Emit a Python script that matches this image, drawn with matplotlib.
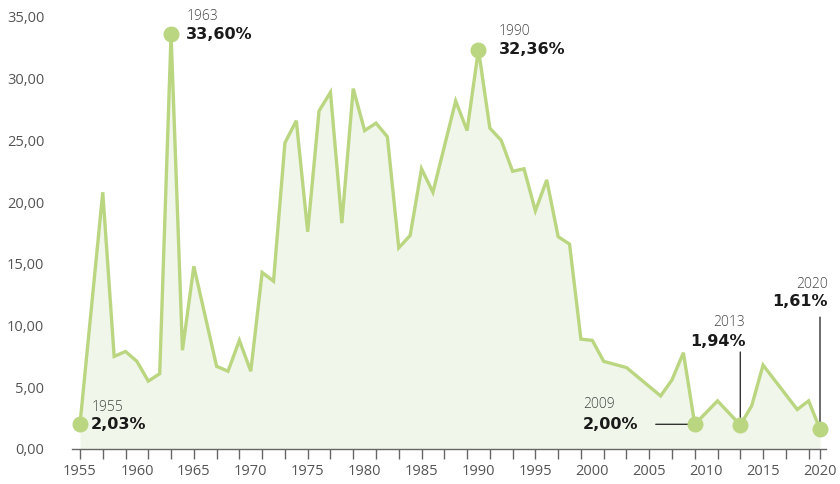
import matplotlib
matplotlib.use("Agg")
import matplotlib.pyplot as plt

plt.rcParams['font.family'] = ['Open Sans', 'DejaVu Sans']

years = [1955, 1957, 1958, 1959, 1960, 1961, 1962, 1963, 1964, 1965,
         1967, 1968, 1969, 1970, 1971, 1972, 1973, 1974, 1975, 1976,
         1977, 1978, 1979, 1980, 1981, 1982, 1983, 1984, 1985, 1986,
         1988, 1989, 1990, 1991, 1992, 1993, 1994, 1995, 1996, 1997,
         1998, 1999, 2000, 2001, 2003, 2006, 2007, 2008, 2009, 2011,
         2013, 2014, 2015, 2018, 2019, 2020]
values = [2.03, 20.8, 7.5, 7.9, 7.1, 5.5, 6.1, 33.60, 8.0, 14.8,
          6.7, 6.3, 8.8, 6.3, 14.3, 13.6, 24.8, 26.6, 17.6, 27.4,
          28.9, 18.3, 29.2, 25.8, 26.4, 25.3, 16.3, 17.3, 22.7, 20.8,
          28.2, 25.8, 32.36, 26.0, 25.0, 22.5, 22.7, 19.3, 21.8, 17.2,
          16.6, 8.9, 8.8, 7.1, 6.6, 4.3, 5.6, 7.8, 2.00, 3.9,
          1.94, 3.5, 6.8, 3.2, 3.9, 1.61]

hl_years = [1955, 1963, 1990, 2009, 2013, 2020]
hl_values = [2.03, 33.60, 32.36, 2.00, 1.94, 1.61]
hl_labels = ["2,03%", "33,60%", "32,36%", "2,00%", "1,94%", "1,61%"]

ytick_values = [0, 5, 10, 15, 20, 25, 30, 35]
xlabel_years = [1955, 1960, 1965, 1970, 1975, 1980, 1985, 1990, 1995,
                2000, 2005, 2010, 2015, 2020]
xtick_years = list(range(1955, 2020, 2)) + [2020]

LINE = "#bad680"
FILL = "#f0f6e9"
GRAY = "#555555"
DARK = "#1a1a1a"

W, H = 840, 484
fig = plt.figure(figsize=(W / 100, H / 100), dpi=100)
ax = fig.add_axes([72 / W, (H - 449) / H, (826 - 72) / W, (449 - 17) / H])
ax.set_xlim(1955 - 8 / 11.385, 2020 + 6 / 11.385)
ax.set_ylim(0, 35)

ax.fill_between(years, values, 0, color=FILL, lw=0, zorder=1)
ax.plot(years, values, color=LINE, lw=2.4, zorder=3, solid_joinstyle='miter')
ax.plot(hl_years, hl_values, 'o', color=LINE, ms=10.5, zorder=4, clip_on=False)

for s in ['top', 'right', 'left']:
    ax.spines[s].set_visible(False)
ax.spines['bottom'].set_color("#666666")
ax.spines['bottom'].set_linewidth(1.0)

ax.set_yticks(ytick_values)
ax.set_yticklabels([f"{v:.2f}".replace('.', ',') for v in ytick_values],
                   color=GRAY, fontsize=10.5)
ax.tick_params(axis='y', length=0, pad=20)

ax.xaxis.remove_overlapping_locs = False
ax.set_xticks(xtick_years)
ax.set_xticklabels([''] * len(xtick_years))
ax.tick_params(axis='x', which='major', length=7, width=1.0, color="#666666",
               direction='out')
ax.set_xticks(xlabel_years, minor=True)
ax.set_xticklabels([str(y) for y in xlabel_years], minor=True,
                   color=GRAY, fontsize=10.5)
ax.tick_params(axis='x', which='minor', length=0, pad=11)

# annotation offsets (pixels): year label, value label, alignment, connector
specs = {
    1955: dict(year=(12, 16), val=(11, -1), ha='left', conn=None),
    1963: dict(year=(16, 18), val=(15, 0), ha='left', conn=None),
    1990: dict(year=(20, 18), val=(20, 0), ha='left', conn=None),
    2009: dict(year=(-112, 20), val=(-112, 0), ha='left', conn=((-39, 0), (-6, 0))),
    2013: dict(year=(5, 103), val=(5, 84), ha='right', conn=((0, 73), (0, 0))),
    2020: dict(year=(8, 145), val=(8, 128), ha='right', conn=((0, 112), (0, 0))),
}

for yr, v, lab in zip(hl_years, hl_values, hl_labels):
    sp = specs[yr]
    ax.annotate(str(yr), xy=(yr, v), xytext=sp['year'], textcoords='offset pixels',
                ha=sp['ha'], va='center', fontsize=10, color="#444444",
                fontweight='light', annotation_clip=False, zorder=5)
    ax.annotate(lab, xy=(yr, v), xytext=sp['val'], textcoords='offset pixels',
                ha=sp['ha'], va='center', fontsize=11.5, color=DARK,
                fontweight='bold', family=['DejaVu Sans'],
                annotation_clip=False, zorder=5)
    if sp['conn'] is not None:
        (x0, y0), (x1, y1) = sp['conn']
        ax.annotate('', xy=(yr, v), xytext=(x0, y0), textcoords='offset pixels',
                    arrowprops=dict(arrowstyle='-', color="#333333", lw=1.0,
                                    shrinkA=0, shrinkB=0),
                    annotation_clip=False, zorder=2)

fig.savefig("out.png", dpi=100, facecolor='white')
